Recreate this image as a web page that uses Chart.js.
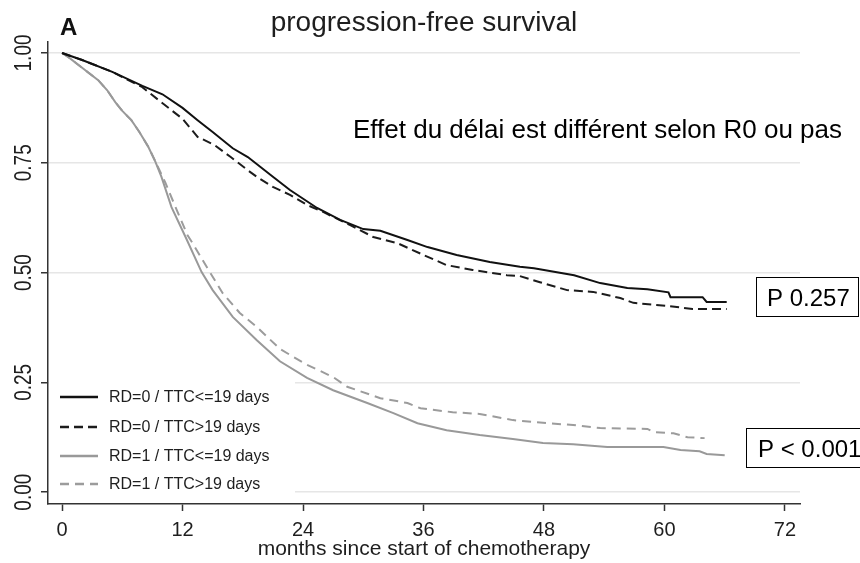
<!DOCTYPE html>
<html>
<head>
<meta charset="utf-8">
<script src="https://cdn.jsdelivr.net/npm/chart.js@4"></script>
<style>
  html, body { margin: 0; padding: 0; background: #fff; }
  canvas { display: block; }
</style>
</head>
<body>
<canvas id="pfs" width="860" height="563"></canvas>
<script>
// Kaplan-Meier estimates, progression-free survival by residual disease (RD) and time to chemo (TTC)
const rd0ShortMonths = [0, 2, 5, 8, 10, 12, 13.5, 15, 17, 18.5, 21, 22.7, 25.4, 27.7, 30, 31.7, 34.4, 36.4, 39.3, 42.6, 45.6, 47, 51, 53.6, 56.3, 58.3, 60.4, 60.6, 63.8, 64.2, 66.2];
const rd0ShortSurv   = [1.00, 0.984, 0.957, 0.925, 0.906, 0.875, 0.847, 0.82, 0.783, 0.763, 0.718, 0.688, 0.647, 0.620, 0.599, 0.595, 0.574, 0.558, 0.540, 0.524, 0.513, 0.510, 0.494, 0.476, 0.465, 0.462, 0.455, 0.444, 0.444, 0.433, 0.433];

const rd0LongMonths = [0, 2, 5, 8, 9.6, 12, 13.5, 15.2, 16.8, 18.5, 19.4, 21, 22.7, 24.4, 26, 28.7, 31, 33.4, 36, 38.3, 40.9, 44.3, 45.6, 47.6, 50.3, 52.9, 55.6, 56.9, 60.3, 62.8, 66.2];
const rd0LongSurv   = [1.00, 0.984, 0.957, 0.922, 0.893, 0.85, 0.809, 0.790, 0.763, 0.733, 0.718, 0.695, 0.677, 0.654, 0.638, 0.608, 0.581, 0.567, 0.540, 0.517, 0.506, 0.494, 0.492, 0.478, 0.460, 0.456, 0.442, 0.431, 0.424, 0.417, 0.417];

const rd1ShortMonths = [0, 0.6, 1.9, 3.6, 4.5, 5.3, 6, 6.9, 7.7, 8.6, 9.3, 9.9, 10.9, 12.3, 13.9, 15, 17, 19.4, 21.7, 24.4, 27, 30.4, 33, 35.4, 38.3, 41.6, 44.9, 47.9, 50.9, 54.3, 59.9, 61.6, 63.5, 64.2, 66];
const rd1ShortSurv   = [1.00, 0.991, 0.968, 0.938, 0.915, 0.888, 0.868, 0.847, 0.82, 0.786, 0.752, 0.718, 0.649, 0.581, 0.501, 0.46, 0.399, 0.346, 0.298, 0.26, 0.232, 0.203, 0.18, 0.157, 0.141, 0.130, 0.121, 0.112, 0.109, 0.103, 0.103, 0.096, 0.093, 0.087, 0.084];

const rd1LongMonths = [0, 0.6, 1.9, 3.6, 4.5, 5.3, 6, 6.9, 7.7, 8.6, 9.4, 10.3, 11.3, 12.5, 13, 14.4, 16, 17.7, 19.4, 21.7, 24.4, 27, 28.4, 31.7, 34.4, 35.7, 38.9, 41.6, 44.9, 48.3, 50.9, 53.6, 58.3, 58.9, 60.9, 62.3, 64];
const rd1LongSurv   = [1.00, 0.991, 0.968, 0.938, 0.915, 0.888, 0.868, 0.847, 0.82, 0.786, 0.748, 0.704, 0.649, 0.585, 0.567, 0.513, 0.453, 0.408, 0.376, 0.326, 0.29, 0.262, 0.240, 0.214, 0.203, 0.191, 0.182, 0.178, 0.164, 0.157, 0.153, 0.146, 0.144, 0.137, 0.134, 0.125, 0.123];

const seriesLabels = ['RD=0 / TTC<=19 days', 'RD=0 / TTC>19 days', 'RD=1 / TTC<=19 days', 'RD=1 / TTC>19 days'];
const xTicks = [0, 12, 24, 36, 48, 60, 72];
const yTicks = [0, 0.25, 0.5, 0.75, 1];
const pValues = ['P 0.257', 'P < 0.001'];

const FONT = '"Liberation Sans", Arial, Helvetica, sans-serif';
const INK = '#1e1e1e';

function pts(xs, ys) {
  return xs.map((m, i) => ({ x: m, y: ys[i] }));
}

function curve(label, xs, ys, color, dash, width) {
  return {
    label: label,
    data: pts(xs, ys),
    borderColor: color,
    borderDash: dash,
    borderWidth: width,
    pointRadius: 0,
    fill: false,
    tension: 0
  };
}

// rotated y tick labels, in-plot legend, headings and p-value boxes
const decorations = {
  id: 'decorations',
  beforeDatasetsDraw(chart) {
    const ctx = chart.ctx;
    ctx.save();
    ctx.fillStyle = '#fff';
    ctx.fillRect(chart.chartArea.left + 1, 376, 246, 124);
    ctx.restore();
  },
  afterDraw(chart) {
    const ctx = chart.ctx;
    const y = chart.scales.y;
    ctx.save();

    // y tick labels, reading bottom to top (glyphs a bit wider than tall)
    ctx.fillStyle = INK;
    ctx.font = '19px ' + FONT;
    ctx.textAlign = 'center';
    ctx.textBaseline = 'middle';
    y.ticks.forEach(t => {
      ctx.save();
      ctx.translate(23, y.getPixelForValue(t.value));
      ctx.rotate(-Math.PI / 2);
      ctx.scale(1, 1.25);
      ctx.fillText(t.value.toFixed(2), 0, 1);
      ctx.restore();
    });

    // legend
    const rowsY = [397, 427, 456, 484];
    ctx.font = '16px ' + FONT;
    ctx.textAlign = 'left';
    chart.data.datasets.forEach((ds, i) => {
      const ry = rowsY[i];
      ctx.beginPath();
      ctx.strokeStyle = ds.borderColor;
      ctx.lineWidth = ds.borderWidth + 0.3;
      ctx.setLineDash(ds.borderDash);
      ctx.moveTo(60, ry);
      ctx.lineTo(98, ry);
      ctx.stroke();
      ctx.setLineDash([]);
      ctx.fillStyle = INK;
      ctx.fillText(ds.label, 109, ry + 1);
    });

    // panel letter and title
    ctx.textBaseline = 'alphabetic';
    ctx.fillStyle = '#111';
    ctx.font = 'bold 24px ' + FONT;
    ctx.fillText('A', 60, 35);
    ctx.font = '28px ' + FONT;
    ctx.textAlign = 'center';
    ctx.fillStyle = INK;
    ctx.fillText('progression-free survival', (chart.chartArea.left + chart.chartArea.right) / 2, 31);

    // note
    ctx.textAlign = 'left';
    ctx.fillStyle = '#000';
    ctx.font = '26px ' + FONT;
    ctx.fillText('Effet du délai est différent selon R0 ou pas', 353, 138);

    // p-value boxes
    ctx.font = '24px ' + FONT;
    ctx.strokeStyle = '#000';
    ctx.lineWidth = 1;
    ctx.strokeRect(756.5, 277.5, 102, 39);
    ctx.fillText(pValues[0], 767, 306);
    ctx.strokeRect(746.5, 428.5, 120, 39);
    ctx.fillText(pValues[1], 758, 457);

    ctx.restore();
  }
};

new Chart(document.getElementById('pfs'), {
  type: 'line',
  data: {
    datasets: [
      curve(seriesLabels[0], rd0ShortMonths, rd0ShortSurv, '#111', [], 2),
      curve(seriesLabels[1], rd0LongMonths, rd0LongSurv, '#1c1c1c', [9, 5], 2),
      curve(seriesLabels[2], rd1ShortMonths, rd1ShortSurv, '#999', [], 2),
      curve(seriesLabels[3], rd1LongMonths, rd1LongSurv, '#9c9c9c', [9, 6], 2)
    ]
  },
  options: {
    responsive: false,
    animation: false,
    layout: { padding: { top: 42, right: 60, left: 0, bottom: 0 } },
    plugins: {
      legend: { display: false },
      title: { display: false },
      tooltip: { enabled: false }
    },
    scales: {
      x: {
        type: 'linear',
        min: -1.4,
        max: 73.5,
        afterBuildTicks(scale) { scale.ticks = xTicks.map(v => ({ value: v })); },
        afterFit(scale) { scale.height = 59; },
        border: { display: true, color: '#333', width: 1.5 },
        grid: { drawOnChartArea: false, drawTicks: true, tickLength: 7, tickColor: '#333', tickWidth: 1.5 },
        ticks: { color: INK, padding: 7, font: { family: FONT, size: 20 }, maxRotation: 0 },
        title: {
          display: true,
          text: 'months since start of chemotherapy',
          color: INK,
          font: { family: FONT, size: 21 },
          padding: { top: 0, bottom: 1 }
        }
      },
      y: {
        type: 'linear',
        min: -0.027,
        max: 1.025,
        afterBuildTicks(scale) { scale.ticks = yTicks.map(v => ({ value: v })); },
        afterFit(scale) { scale.width = 48; },
        border: { display: true, color: '#333', width: 1.5 },
        grid: { color: '#e6e6e6', lineWidth: 1.5, drawTicks: true, tickLength: 7, tickColor: '#333', tickWidth: 1.5 },
        ticks: { display: false }
      }
    }
  },
  plugins: [decorations]
});
</script>
</body>
</html>
